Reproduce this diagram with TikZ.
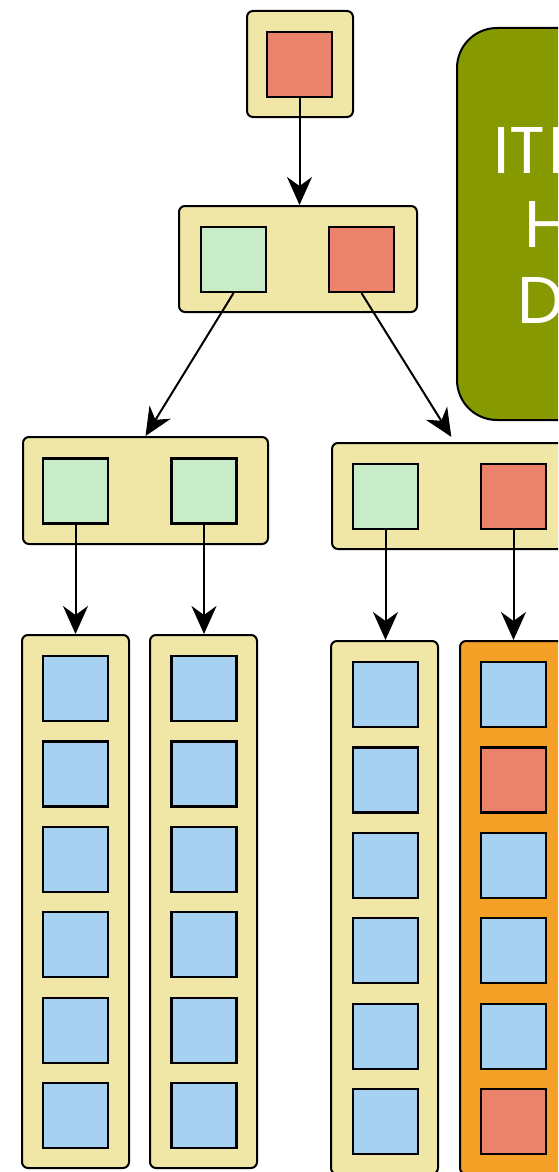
\documentclass[tikz,border=0pt]{standalone}
\usepackage{fontspec}
\setmainfont{Poppins}
\usetikzlibrary{arrows.meta}
\definecolor{cream}{RGB}{240,230,166}
\definecolor{redsq}{RGB}{235,130,108}
\definecolor{greensq}{RGB}{200,235,200}
\definecolor{bluesq}{RGB}{166,209,240}
\definecolor{orangebk}{RGB}{245,160,38}
\definecolor{olive}{RGB}{134,153,0}
\tikzset{
  holder/.style={draw=black, fill=cream, rounded corners=6pt, line width=2pt, inner sep=0pt},
  sq/.style={draw=black, line width=2.2pt, minimum size=65pt, inner sep=0pt},
  rsq/.style={sq, fill=redsq},
  gsq/.style={sq, fill=greensq},
  bsq/.style={sq, fill=bluesq},
  link/.style={line width=2pt, -{Stealth[length=28pt,width=25pt,inset=9pt]}},
  bigtext/.style={text=white, anchor=base west, inner sep=0pt, font=\fontsize{66}{66}\selectfont}
}
\begin{document}
\begin{tikzpicture}[x=1pt,y=-1pt]
\useasboundingbox (0,0) rectangle (558,1172);
\clip (0,0) rectangle (558,1172);
% legend box
\node[draw=black, fill=olive, line width=2pt, rounded corners=40pt, minimum width=300pt, minimum height=392pt, inner sep=0pt] (legend) at (607,224) {};
\node[bigtext] (l1) at (493,173) {IT\kern3pt I};
\node[bigtext] (l2) at (524,247) {H};
\node[bigtext] (l3) at (517,323) {D};
% top
\node[holder, minimum width=106pt, minimum height=106pt] (b0) at (300,64) {};
\node[rsq] (s0) at (299.5,64.5) {};
% level 2
\node[holder, minimum width=238pt, minimum height=106pt] (b1) at (298,259) {};
\node[gsq] (s1a) at (233.5,259.5) {};
\node[rsq] (s1b) at (361.5,259.5) {};
% level 3
\node[holder, minimum width=245pt, minimum height=107pt] (b2a) at (145.5,490.5) {};
\node[gsq] (s2a) at (75.5,491) {};
\node[gsq] (s2b) at (204,491) {};
\node[holder, minimum width=245pt, minimum height=106pt] (b2b) at (454.5,496) {};
\node[gsq] (s2c) at (385.5,496.5) {};
\node[rsq] (s2d) at (513.5,496.5) {};
% buckets
\node[holder, minimum width=107pt, minimum height=533pt] (k1) at (75.5,901.5) {};
\node[holder, minimum width=107pt, minimum height=533pt] (k2) at (203.5,901.5) {};
\node[holder, minimum width=107pt, minimum height=533pt] (k3) at (384.5,907.5) {};
\node[holder, fill=orangebk, minimum width=107pt, minimum height=533pt] (k4) at (513.5,907.5) {};
\foreach \i in {0,...,5} {
  \node[bsq] (k1s\i) at (75.5,688.5+85.4*\i) {};
  \node[bsq] (k2s\i) at (204,688.5+85.4*\i) {};
  \node[bsq] (k3s\i) at (385.5,694.5+85.4*\i) {};
}
\foreach \i/\c in {0/bsq,1/rsq,2/bsq,3/bsq,4/bsq,5/rsq} {
  \node[\c] (k4s\i) at (513.5,694.5+85.4*\i) {};
}
% connectors
\draw[link] (s0.south) -- (s0.south |- b1.north);
\draw[link] (s1a.south) -- (b2a.north);
\draw[link, shorten >=6pt] (s1b.south) -- (b2b.north);
\draw[link] (s2a.south) -- (s2a.south |- k1.north);
\draw[link] (s2b.south) -- (s2b.south |- k2.north);
\draw[link] (s2c.south) -- (s2c.south |- k3.north);
\draw[link] (s2d.south) -- (s2d.south |- k4.north);
\end{tikzpicture}
\end{document}
